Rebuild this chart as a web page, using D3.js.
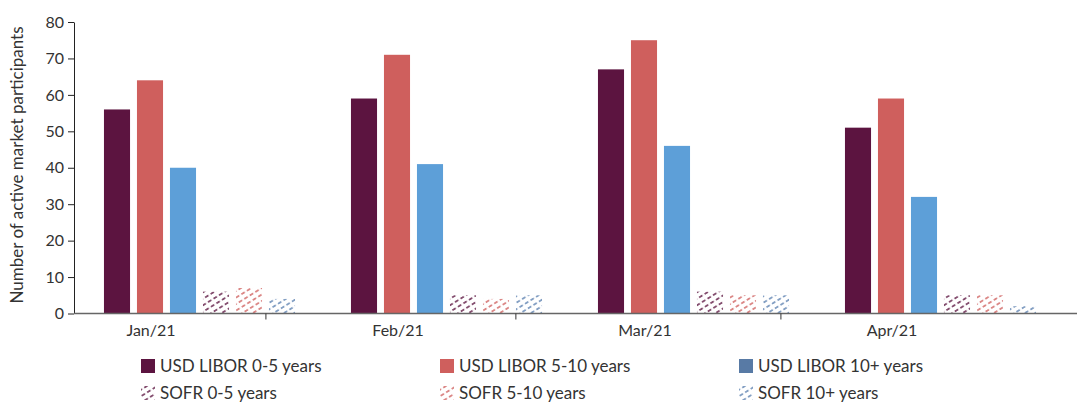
<!DOCTYPE html>
<html>
<head>
<meta charset="utf-8">
<script src="https://cdn.jsdelivr.net/npm/d3@7"></script>
<style>
  body { margin: 0; background: #fff; }
  text { font-family: Lato, "Open Sans", sans-serif; fill: #333; }
</style>
</head>
<body>
<div id="chartArea"></div>
<script>
var months = ["Jan/21", "Feb/21", "Mar/21", "Apr/21"];
var seriesNames = ["USD LIBOR 0-5 years", "USD LIBOR 5-10 years", "USD LIBOR 10+ years",
  "SOFR 0-5 years", "SOFR 5-10 years", "SOFR 10+ years"];
var liborShort = [56, 59, 67, 51];
var liborMid = [64, 71, 75, 59];
var liborLong = [40, 41, 46, 32];
var sofrShort = [6, 5, 6, 5];
var sofrMid = [7, 4, 5, 5];
var sofrLong = [4, 5, 5, 2];
var yTicks = [0, 10, 20, 30, 40, 50, 60, 70, 80];

var allSeries = [liborShort, liborMid, liborLong, sofrShort, sofrMid, sofrLong];
var barColors = ["#5c1440", "#cf5f5d", "#5d9fd8", "#5c1440", "#d0605e", "#5a7fb0"];
var legendColors = ["#5c1440", "#cf5f5d", "#587aa5", "#5c1440", "#d0605e", "#5a7fb0"];

var width = 1080, height = 403;
var margin = { top: 22, right: 3, bottom: 89, left: 74 };

var svg = d3.select("#chartArea").append("svg")
  .attr("width", width).attr("height", height);

// hatch patterns for SOFR series
var defs = svg.append("defs");
[3, 4, 5].forEach(function (i) {
  var p = defs.append("pattern")
    .attr("id", "hatch" + i)
    .attr("patternUnits", "userSpaceOnUse")
    .attr("width", 6.5).attr("height", 5.5)
    .attr("patternTransform", "rotate(-32)");
  p.append("line")
    .attr("x1", -1).attr("x2", 8).attr("y1", 2.75).attr("y2", 2.75)
    .attr("stroke", barColors[i])
    .attr("stroke-width", 1.6)
    .attr("stroke-dasharray", "4,2.5");
});

var x0 = d3.scaleBand().domain(months)
  .range([margin.left, margin.left + 4 * 247]);
var x1 = d3.scaleBand().domain(d3.range(6))
  .range([26.5, 26.5 + 6 * 33]).paddingInner(0.21).paddingOuter(0.105);
var y = d3.scaleLinear().domain([0, 80])
  .range([height - margin.bottom - 0.5, margin.top]);

var groups = svg.append("g").selectAll("g")
  .data(months).enter().append("g")
  .attr("transform", function (m) { return "translate(" + x0(m) + ",0)"; });

groups.selectAll("rect")
  .data(function (m, mi) {
    return allSeries.map(function (s, si) { return { si: si, v: s[mi] }; });
  })
  .enter().append("rect")
  .attr("x", function (d) { return x1(d.si); })
  .attr("width", x1.bandwidth())
  .attr("y", function (d) { return y(d.v); })
  .attr("height", function (d) { return y(0) - y(d.v); })
  .attr("fill", function (d) {
    return d.si < 3 ? barColors[d.si] : "url(#hatch" + d.si + ")";
  });

// y axis
var yAxis = d3.axisLeft(y).tickValues(yTicks).tickSize(6).tickSizeOuter(0).tickPadding(4);
var gy = svg.append("g")
  .attr("transform", "translate(" + margin.left + ",0)")
  .call(yAxis);
gy.select(".domain").attr("stroke", "#222");
gy.selectAll(".tick line").attr("stroke", "#222");
gy.selectAll(".tick text").style("font-size", "16px").attr("fill", "#333");

// x axis line and ticks
svg.append("line")
  .attr("x1", margin.left).attr("x2", width - margin.right)
  .attr("y1", y(0)).attr("y2", y(0))
  .attr("stroke", "#666").attr("stroke-width", 1.5);

var tickFrac = [0.777, 0.789, 0.862];
svg.append("g").selectAll("line")
  .data(months.slice(0, 3)).enter().append("line")
  .attr("x1", function (m, i) { return x0(m) + x0.bandwidth() * tickFrac[i]; })
  .attr("x2", function (m, i) { return x0(m) + x0.bandwidth() * tickFrac[i]; })
  .attr("y1", y(0)).attr("y2", y(0) + 6)
  .attr("stroke", "#333");

svg.append("g").selectAll("text")
  .data(months).enter().append("text")
  .attr("x", function (m) { return x0(m) + x1(1) + x1.bandwidth() / 2 + 1; })
  .attr("y", y(0) + 22)
  .attr("text-anchor", "middle")
  .style("font-size", "16px")
  .text(function (m) { return m; });

// y label
svg.append("text")
  .attr("transform", "translate(23,165) rotate(-90)")
  .attr("text-anchor", "middle")
  .style("font-size", "17px")
  .attr("fill", "#222")
  .text("Number of active market participants");

// legend
var legX = [141, 440, 739], legY = [366, 393];
var leg = svg.append("g").selectAll("g")
  .data(seriesNames).enter().append("g")
  .attr("transform", function (d, i) {
    return "translate(" + legX[i % 3] + "," + legY[Math.floor(i / 3)] + ")";
  });
leg.append("rect")
  .attr("x", 0).attr("y", -7).attr("width", 14).attr("height", 14)
  .attr("fill", function (d, i) { return i < 3 ? legendColors[i] : "url(#hatch" + i + ")"; });
leg.append("text")
  .attr("x", 19).attr("y", 0).attr("dy", "0.35em")
  .style("font-size", "17px")
  .text(function (d) { return d; });
</script>
</body>
</html>
